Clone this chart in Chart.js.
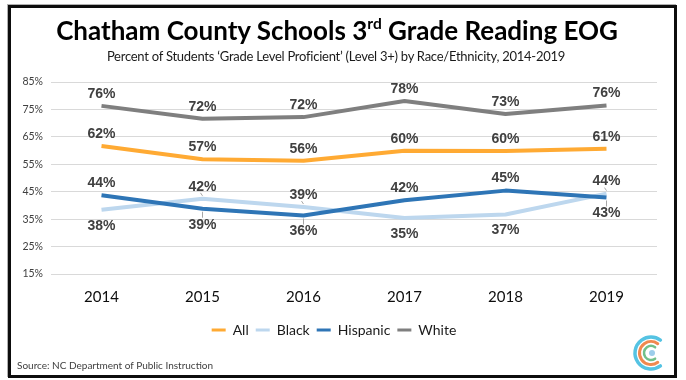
<!DOCTYPE html>
<html><head><meta charset="utf-8">
<script src="https://cdn.jsdelivr.net/npm/chart.js@4.4.1/dist/chart.umd.min.js"></script>
<style>
html,body{margin:0;padding:0;background:#fff;}
body{width:686px;height:380px;position:relative;overflow:hidden;font-family:Lato,"Open Sans",sans-serif;}
#frame{position:absolute;left:8px;top:5px;width:669px;height:373px;box-sizing:border-box;border:3px solid #0d0d0d;box-shadow:-1px -1px 0 #b0b0b0;}
#title{position:absolute;left:0;width:674px;top:14px;text-align:center;font-weight:bold;font-size:26px;color:#000;line-height:32px;white-space:nowrap;}
#title sup{font-size:0.6em;line-height:0;position:relative;top:-0.1em;vertical-align:super;}
#sub{position:absolute;left:0;width:672px;top:48px;text-align:center;font-size:13px;letter-spacing:-0.25px;color:#1a1a1a;white-space:nowrap;}
#src{position:absolute;left:17px;top:359px;font-size:10px;color:#404040;white-space:nowrap;}
#wrap{position:absolute;left:0;top:0;width:686px;height:380px;}
#logo{position:absolute;left:632px;top:331px;}
</style></head>
<body>
<div id="frame"></div>
<div id="wrap"><canvas id="c" width="686" height="380"></canvas></div>
<div id="title">Chatham County Schools 3<sup>rd</sup> Grade Reading EOG</div>
<div id="sub">Percent of Students ‘Grade Level Proficient’ (Level 3+) by Race/Ethnicity, 2014-2019</div>
<div id="src">Source: NC Department of Public Instruction</div>
<canvas id="logo" width="38" height="44"></canvas>
<script>
const years = ['2014','2015','2016','2017','2018','2019'];
const allVals = [61.7, 56.8, 56.3, 59.9, 59.8, 60.7];
const blackVals = [38.4, 42.4, 39.4, 35.4, 36.7, 44.3];
const hispanicVals = [43.7, 38.8, 36.3, 41.9, 45.4, 42.9];
const whiteVals = [76.3, 71.6, 72.2, 78.1, 73.3, 76.4];
const seriesNames = ['All','Black','Hispanic','White'];
const yTicks = [15, 25, 35, 45, 55, 65, 75, 85];

const colors = ['#FFAA33', '#BDD7EE', '#2E75B6', '#7F7F7F'];
const drawOrder = [0, 2, 1, 3];
const seriesVals = [allVals, blackVals, hispanicVals, whiteVals];

const labelPlugin = {
  id: 'valueLabels',
  afterDatasetsDraw(chart) {
    const ctx = chart.ctx;
    ctx.save();
    ctx.font = 'bold 14px "Liberation Sans", Arial, sans-serif';
    ctx.fillStyle = '#404040';
    ctx.textAlign = 'center';
    ctx.textBaseline = 'middle';
    chart.data.datasets.forEach((ds, di) => {
      const meta = chart.getDatasetMeta(di);
      meta.data.forEach((pt, i) => {
        const v = ds.data[i];
        let nearAbove = Infinity, nearBelow = Infinity;
        chart.data.datasets.forEach((o, oi) => {
          if (oi === di) return;
          const d = o.data[i] - v;
          if (d > 0 && d < nearAbove) nearAbove = d;
          if (d < 0 && -d < nearBelow) nearBelow = -d;
        });
        const below = nearAbove < 10;
        const close = below ? nearAbove < 5 : nearBelow < 5;
        const cy = below ? pt.y + 16 : pt.y - 12;
        ctx.fillText(Math.round(v) + '%', pt.x, cy);
        if (close) {
          ctx.strokeStyle = '#a6a6a6';
          ctx.lineWidth = 1;
          ctx.beginPath();
          if (below) { ctx.moveTo(pt.x, pt.y + 3); ctx.lineTo(pt.x, cy - 7); }
          else { ctx.moveTo(pt.x - 2, cy + 6); ctx.lineTo(pt.x, pt.y - 3); }
          ctx.stroke();
        }
      });
    });
    ctx.restore();
  }
};

new Chart(document.getElementById('c'), {
  type: 'line',
  data: {
    labels: years,
    datasets: seriesNames.map((n, k) => ({
      label: n,
      data: seriesVals[k],
      borderColor: colors[k],
      backgroundColor: colors[k],
      borderWidth: 4,
      pointRadius: 0,
      tension: 0,
      borderJoinStyle: 'round',
      order: drawOrder[k]
    }))
  },
  options: {
    responsive: false,
    animation: false,
    devicePixelRatio: 1,
    layout: { padding: { left: 11, right: 29, top: 82, bottom: 33 } },
    plugins: {
      title: { display: false },
      tooltip: { enabled: false },
      legend: {
        position: 'bottom',
        labels: {
          boxWidth: 14, boxHeight: 3, padding: 7,
          color: '#1a1a1a',
          font: { family: 'Lato', size: 14 },
          sort: (a, b) => a.datasetIndex - b.datasetIndex,
          generateLabels(chart) {
            return chart.data.datasets.map((ds, i) => ({
              text: ds.label, fillStyle: ds.borderColor, strokeStyle: ds.borderColor,
              lineWidth: 0, hidden: false, datasetIndex: i, fontColor: '#1a1a1a'
            }));
          }
        }
      }
    },
    scales: {
      x: {
        offset: true,
        grid: { display: false, drawTicks: false },
        border: { display: false },
        ticks: { color: '#0d0d0d', font: { family: 'Lato', size: 15 }, padding: 14 },
        afterFit(s) { s.height = 42; }
      },
      y: {
        min: 15, max: 85,
        afterBuildTicks(s) { s.ticks = yTicks.map(v => ({ value: v })); },
        grid: { color: '#d9d9d9', lineWidth: 1, drawTicks: false },
        border: { display: false },
        ticks: { color: '#404040', font: { family: 'Lato', size: 10.5 }, padding: 8, callback: v => v + '%' },
        afterFit(s) { s.width = 40; }
      }
    }
  },
  plugins: [labelPlugin]
});

// logo (decoration)
(function(){
  const c = document.getElementById('logo').getContext('2d');
  const cx = 19, cy = 22;
  const arcs = [[16, '#55C3E3', 3.5], [11.5, '#F0894F', 3], [7, '#72C08A', 2.5]];
  arcs.forEach(([r, col, w]) => {
    c.beginPath(); c.strokeStyle = col; c.lineWidth = w; c.lineCap = 'round';
    c.arc(cx, cy, r, 0.3 * Math.PI, 1.7 * Math.PI, false); c.stroke();
  });
  c.beginPath(); c.fillStyle = '#9CCDEB'; c.arc(cx + 1, cy, 3, 0, 2 * Math.PI); c.fill();
})();
</script>
</body></html>
